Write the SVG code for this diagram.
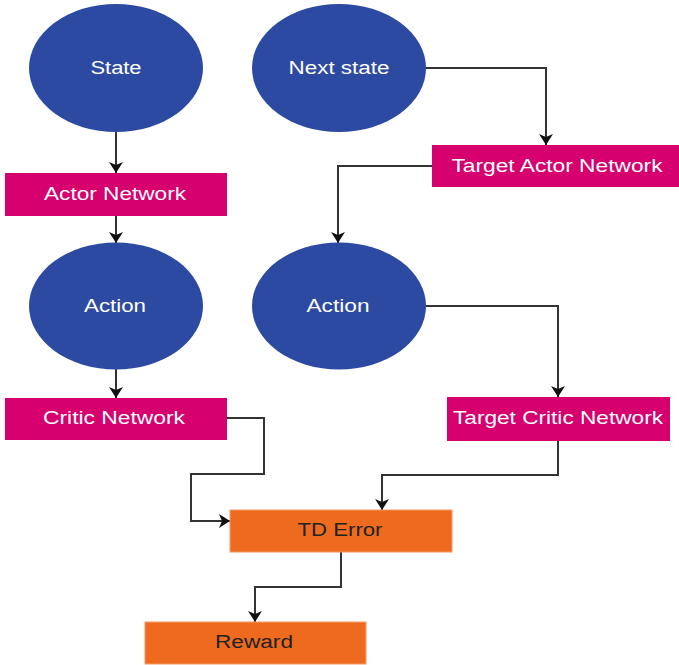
<svg xmlns="http://www.w3.org/2000/svg" width="679" height="665" viewBox="0 0 679 665">
  <style>
    .state { fill: #2D4AA3; }
    .net { fill: #D6006E; }
    .calc { fill: #EE6A1E; stroke: #F39A66; stroke-width: 1; }
    .lbl { font-family: "Liberation Sans", Arial, sans-serif; font-size: 18px; text-anchor: middle; fill: #ffffff; }
    .dark { fill: #222222; }
    .edge { fill: none; stroke: #333333; stroke-width: 2; marker-end: url(#arrow); }
  </style>
  <defs>
    <!-- notched arrowhead, 11 long and 14 wide -->
    <marker id="arrow" viewBox="0 0 11 14" markerWidth="11" markerHeight="14" refX="11" refY="7" orient="auto" markerUnits="userSpaceOnUse">
      <path d="M0,0 L11,7 L0,14 L3,7 z" fill="#111111"/>
    </marker>
  </defs>
  <rect width="679" height="665" fill="#ffffff"/>

  <g id="connectors">
    <path class="edge" d="M116,131 V173"/>
    <path class="edge" d="M116,216 V243"/>
    <path class="edge" d="M116,369 V398"/>
    <path class="edge" d="M426,68 H546 V145"/>
    <path class="edge" d="M432,166 H338 V243"/>
    <path class="edge" d="M426,306 H558 V397"/>
    <path class="edge" d="M227,418 H264 V474 H191 V521 H230"/>
    <path class="edge" d="M558,441 V475 H382 V510"/>
    <path class="edge" d="M341,552 V587 H255 V622"/>
  </g>

  <g id="state">
    <ellipse class="state" cx="116" cy="68" rx="87" ry="64"/>
    <text class="lbl" x="116" y="74" textLength="51" lengthAdjust="spacingAndGlyphs">State</text>
  </g>
  <g id="next-state">
    <ellipse class="state" cx="339" cy="68" rx="87" ry="64"/>
    <text class="lbl" x="339" y="74" textLength="101" lengthAdjust="spacingAndGlyphs">Next state</text>
  </g>
  <g id="actor-network">
    <rect class="net" x="5" y="173" width="222" height="43"/>
    <text class="lbl" x="115" y="200" textLength="142" lengthAdjust="spacingAndGlyphs">Actor Network</text>
  </g>
  <g id="target-actor-network">
    <rect class="net" x="432" y="145" width="247" height="42"/>
    <text class="lbl" x="557" y="172" textLength="211" lengthAdjust="spacingAndGlyphs">Target Actor Network</text>
  </g>
  <g id="action">
    <ellipse class="state" cx="116" cy="306" rx="87" ry="63.5"/>
    <text class="lbl" x="115" y="312" textLength="62" lengthAdjust="spacingAndGlyphs">Action</text>
  </g>
  <g id="target-action">
    <ellipse class="state" cx="339" cy="306" rx="87" ry="63.5"/>
    <text class="lbl" x="338" y="312" textLength="63" lengthAdjust="spacingAndGlyphs">Action</text>
  </g>
  <g id="critic-network">
    <rect class="net" x="5" y="398" width="222" height="42"/>
    <text class="lbl" x="114" y="424" textLength="142" lengthAdjust="spacingAndGlyphs">Critic Network</text>
  </g>
  <g id="target-critic-network">
    <rect class="net" x="447" y="397" width="223" height="44"/>
    <text class="lbl" x="558" y="424" textLength="210" lengthAdjust="spacingAndGlyphs">Target Critic Network</text>
  </g>
  <g id="td-error">
    <rect class="calc" x="230" y="510" width="222" height="42"/>
    <text class="lbl dark" x="340" y="536" textLength="85" lengthAdjust="spacingAndGlyphs">TD Error</text>
  </g>
  <g id="reward">
    <rect class="calc" x="145" y="622" width="221" height="42"/>
    <text class="lbl dark" x="254" y="648" textLength="78" lengthAdjust="spacingAndGlyphs">Reward</text>
  </g>
</svg>
